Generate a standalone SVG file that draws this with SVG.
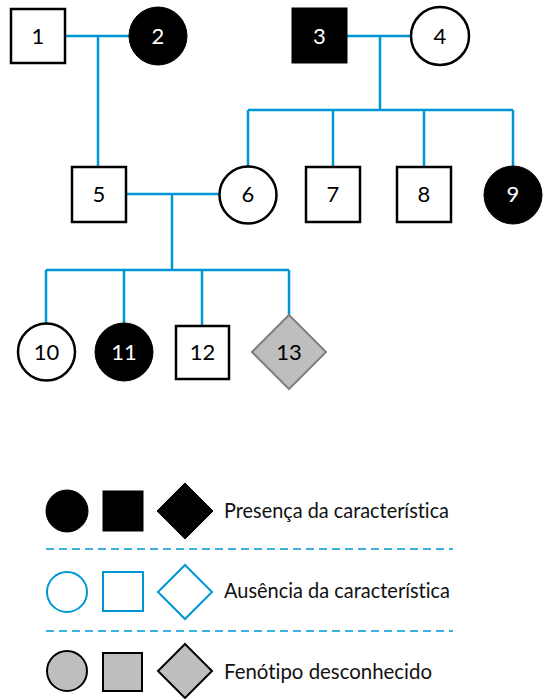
<svg xmlns="http://www.w3.org/2000/svg" width="544" height="699" viewBox="0 0 544 699">
<style>
.c{fill:none;stroke:#0096d6;stroke-width:2.5}
.d{fill:none;stroke:#0096d6;stroke-width:1.5;stroke-dasharray:8 5}
.o{fill:#fff;stroke:#000;stroke-width:2.5}
.f{fill:#000;stroke:#000;stroke-width:1}
.g{fill:#bcbec0;stroke:#000;stroke-width:2}
.gg{fill:#bcbec0;stroke:#808080;stroke-width:2}
.b{fill:#fff;stroke:#0096d6;stroke-width:2}
text{font-family:Lato,"Noto Sans","Liberation Sans",sans-serif;font-size:22px;text-anchor:middle;font-variant-ligatures:none}
.w{fill:#fff}
.k{fill:#000}
.l{font-size:21px;text-anchor:start;fill:#111}
</style>
<g id="connectors">
<path class="c" d="M65 36H129M98 36V167"/>
<path class="c" d="M347 36H411M380 36V110M248 110H513M248 110V166M333 110V167M424 110V167M513 110V166"/>
<path class="c" d="M126 194H220M172 194V270M46 270H289M46 270V323M124 270V323M202 270V326M289 270V315"/>
</g>
<g id="n1"><rect class="o" x="11" y="9" width="54" height="54"/><text x="38" y="44" class="k">1</text></g>
<g id="n2"><circle class="f" cx="158" cy="36" r="29"/><text x="158" y="44" class="w">2</text></g>
<g id="n3"><rect class="f" x="292" y="8" width="55" height="55"/><text x="319.5" y="44" class="w">3</text></g>
<g id="n4"><circle class="o" cx="440" cy="36" r="29"/><text x="440" y="44" class="k">4</text></g>
<g id="n5"><rect class="o" x="72" y="167" width="54" height="55"/><text x="99" y="202" class="k">5</text></g>
<g id="n6"><circle class="o" cx="248" cy="195" r="28.5"/><text x="248" y="202" class="k">6</text></g>
<g id="n7"><rect class="o" x="306" y="167" width="54" height="55"/><text x="333" y="202" class="k">7</text></g>
<g id="n8"><rect class="o" x="397" y="167" width="54" height="55"/><text x="424" y="202" class="k">8</text></g>
<g id="n9"><circle class="f" cx="513" cy="195" r="29"/><text x="513" y="202" class="w">9</text></g>
<g id="n10"><circle class="o" cx="46.5" cy="352" r="28.5"/><text x="46.5" y="360" class="k">10</text></g>
<g id="n11"><circle class="f" cx="124" cy="352" r="29"/><text x="124" y="360" class="w">11</text></g>
<g id="n12"><rect class="o" x="176" y="326" width="53" height="53"/><text x="202.5" y="360" class="k">12</text></g>
<g id="n13"><polygon class="gg" points="289,315 326,352 289,389 252,352"/><text x="289" y="360" class="k">13</text></g>
<g id="legend">
<circle class="f" cx="67" cy="511" r="21"/>
<rect class="f" x="103" y="491" width="40" height="40"/>
<polygon class="f" points="185,483 213,511 185,539 157,511"/>
<text class="l" x="224" y="518" textLength="225" lengthAdjust="spacingAndGlyphs">Presença da característica</text>
<line class="d" x1="46" y1="549" x2="453" y2="549"/>
<circle class="b" cx="67" cy="592" r="20"/>
<rect class="b" x="103" y="572" width="40" height="39"/>
<polygon class="b" points="185,565 212,592 185,619 158,592"/>
<text class="l" x="224" y="598" textLength="226" lengthAdjust="spacingAndGlyphs">Ausência da característica</text>
<line class="d" x1="46" y1="631" x2="453" y2="631"/>
<circle class="g" cx="67" cy="671" r="20"/>
<rect class="g" x="103" y="653" width="39" height="38"/>
<polygon class="g" points="185,644 212,671 185,698 158,671"/>
<text class="l" x="224" y="679" textLength="208" lengthAdjust="spacingAndGlyphs">Fenótipo desconhecido</text>
</g>
</svg>
